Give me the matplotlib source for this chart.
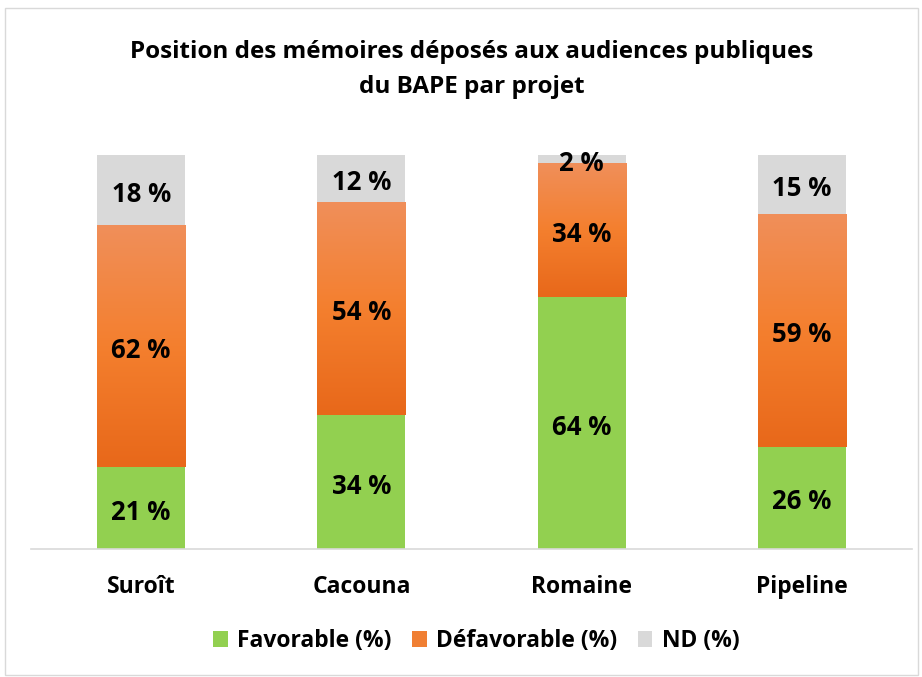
import matplotlib
matplotlib.use("Agg")
import matplotlib.pyplot as plt
import matplotlib.transforms as mtransforms
import numpy as np
from matplotlib.patches import Rectangle, Patch
from matplotlib.colors import LinearSegmentedColormap

categories = ["Suroît", "Cacouna", "Romaine", "Pipeline"]
favorable = [21, 34, 64, 26]
defavorable = [62, 54, 34, 59]
nd = [18, 12, 2, 15]
series_names = ["Favorable (%)", "Défavorable (%)", "ND (%)"]

plt.rcParams['font.family'] = ['Open Sans', 'DejaVu Sans']
plt.rcParams['font.weight'] = 'bold'

fig = plt.figure(figsize=(9.22, 6.77), dpi=100)
W, H = 922, 677
fig.patches.append(Rectangle((5 / W, 2 / H), 913 / W, (H - 10) / H, transform=fig.transFigure,
                             fill=False, edgecolor="#D9D9D9", linewidth=1.0))

ax = fig.add_axes([31 / W, (H - 549) / H, 881 / W, (549 - 155) / H])

fav = np.array(favorable, float)
dfa = np.array(defavorable, float)
ndv = np.array(nd, float)
tot = fav + dfa + ndv
fav_n, dfa_n, nd_n = fav / tot, dfa / tot, ndv / tot

x = np.arange(len(categories))
w = 0.4
green = "#92D050"
gray = "#D9D9D9"
ocm = LinearSegmentedColormap.from_list("o", ["#E8681A", "#F47F2E", "#F08F5A"])

ax.bar(x, fav_n, w, color=green, linewidth=0)
obars = ax.bar(x, dfa_n, w, bottom=fav_n, color="none", linewidth=0)
ax.bar(x, nd_n, w, bottom=fav_n + dfa_n, color=gray, linewidth=0)

grad = np.linspace(0, 1, 256).reshape(-1, 1)
for b in obars:
    x0, y0 = b.get_x(), b.get_y()
    ax.imshow(grad, cmap=ocm, origin="lower", aspect="auto",
              extent=[x0, x0 + b.get_width(), y0, y0 + b.get_height()], zorder=1)

fs = 18.5
tr = mtransforms.offset_copy(ax.transData, fig=fig, y=-3, units="points")
for i in range(len(categories)):
    ax.text(x[i], fav_n[i] / 2, f"{favorable[i]} %", ha="center", va="center",
            fontsize=fs, fontweight="bold", transform=tr)
    ax.text(x[i], fav_n[i] + dfa_n[i] / 2, f"{defavorable[i]} %", ha="center", va="center",
            fontsize=fs, fontweight="bold", transform=tr)
    ax.text(x[i], fav_n[i] + dfa_n[i] + nd_n[i] / 2, f"{nd[i]} %", ha="center", va="center",
            fontsize=fs, fontweight="bold", transform=tr)

ax.set_xlim(-0.5, len(categories) - 0.5)
ax.set_ylim(0, 1)
ax.set_yticks([])
ax.set_xticks(x)
ax.set_xticklabels(categories, fontsize=16.5, fontweight="bold")
ax.tick_params(axis="x", length=0, pad=19)
for s in ["top", "right", "left"]:
    ax.spines[s].set_visible(False)
ax.spines["bottom"].set_color("#D9D9D9")
ax.spines["bottom"].set_linewidth(1.2)

fig.text(472 / W, (H - 52) / H, "Position des mémoires déposés aux audiences publiques", ha="center", va="center",
         fontsize=17.5, fontweight="bold")
fig.text(472 / W, (H - 87) / H, "du BAPE par projet", ha="center", va="center",
         fontsize=17.5, fontweight="bold")

handles = [Patch(facecolor=green), Patch(facecolor="#F07F33"), Patch(facecolor=gray)]
fig.legend(handles, series_names, loc="center", bbox_to_anchor=(476 / W, (H - 641) / H), ncol=3, frameon=False,
           prop={"size": 16.5, "weight": "bold"}, handlelength=0.65, handleheight=0.65, handletextpad=0.4,
           columnspacing=0.9)

fig.savefig("out.png", dpi=100)
